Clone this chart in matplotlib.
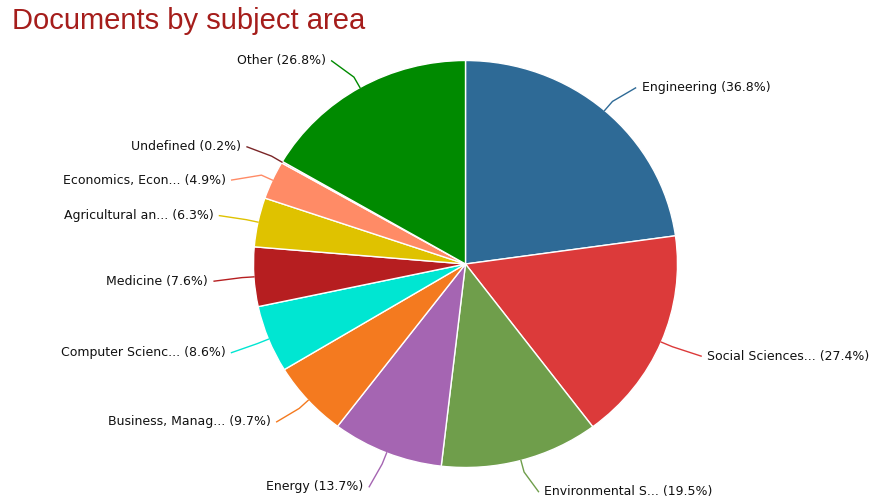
import numpy as np
import matplotlib
matplotlib.use('Agg')
import matplotlib.pyplot as plt

# Dados (percentuais como exibidos, somam mais de 100)
areas = ['Engineering', 'Social Sciences...', 'Environmental S...', 'Energy',
         'Business, Manag...', 'Computer Scienc...', 'Medicine',
         'Agricultural an...', 'Economics, Econ...', 'Undefined', 'Other']
percentuais = [36.8, 27.4, 19.5, 13.7, 9.7, 8.6, 7.6, 6.3, 4.9, 0.2, 26.8]
cores = ['#2e6a96', '#dc3a3a', '#6f9e4b', '#a565b2', '#f47a1f', '#00e6d2',
         '#b61e20', '#dfc200', '#ff8b66', '#7a2527', '#008a00']

# Ajustes dos rótulos (pixels) para ficar como no original
ajuste_y = [5, 0, -4, 0, -3, 0, 2, 1, 15, 3, 5]
ajuste_x = [5, 12, -5, 5, 6, 9, 10, 9, 7, 7, 4]

W, H = 869, 501
fig = plt.figure(figsize=(W / 100, H / 100), dpi=100)

# Centro e raios da pizza em pixels (levemente achatada como na imagem)
cx, cy = 465.5, H - 264
rx, ry = 212, 203.5

ax_pie = fig.add_axes([(cx - rx) / W, (cy - ry) / H, 2 * rx / W, 2 * ry / H])
wedges, _ = ax_pie.pie(percentuais, colors=cores, startangle=90, counterclock=False,
                       radius=1, wedgeprops=dict(edgecolor='white', linewidth=1))
ax_pie.set_xlim(-1, 1)
ax_pie.set_ylim(-1, 1)
ax_pie.set_aspect('auto')
ax_pie.axis('off')

# Eixo transparente em pixels para rótulos e linhas
ax = fig.add_axes([0, 0, 1, 1])
ax.set_xlim(0, W)
ax.set_ylim(0, H)
ax.axis('off')
ax.patch.set_alpha(0)

R_lab = 240
for w, nome, pct, cor, dy, ddx in zip(wedges, areas, percentuais, cores, ajuste_y, ajuste_x):
    ang = np.deg2rad((w.theta1 + w.theta2) / 2)
    x0 = cx + rx * np.cos(ang)
    y0 = cy + ry * np.sin(ang)
    ly = cy + R_lab * np.sin(ang) - dy
    lado = 1 if np.cos(ang) >= 0 else -1
    dx = np.sqrt(max(R_lab**2 - (ly - cy)**2, 0))
    lx = cx + lado * (dx + 6 + ddx)
    xm = cx + (rx + 12) * np.cos(ang)
    ym = cy + (ry + 12) * np.sin(ang)
    ax.plot([x0, xm, lx - lado * 4], [y0, ym, ly], color=cor, linewidth=1)
    ax.text(lx + lado * 2, ly, f'{nome} ({pct}%)', ha='left' if lado > 0 else 'right',
            va='center', fontsize=9, color='#111111', family='DejaVu Sans')

fig.text(12 / W, 1 - 21 / H, 'Documents by subject area', fontsize=21,
         color='#a51d1b', family='Liberation Sans', ha='left', va='center')

fig.savefig('out.png', dpi=100)
